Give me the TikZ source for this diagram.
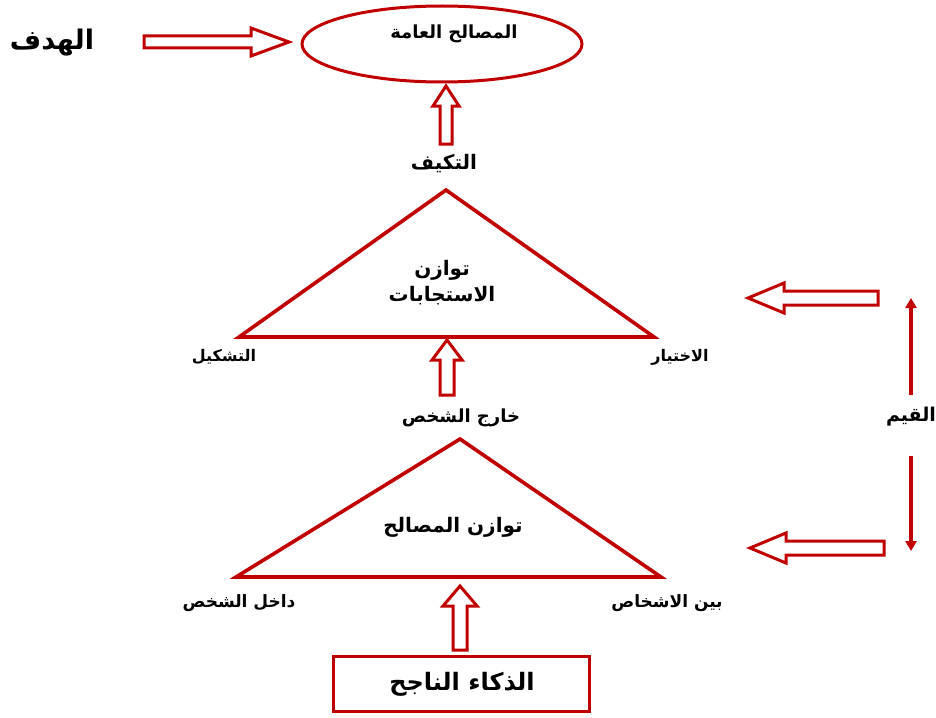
\documentclass[tikz,border=0pt]{standalone}
\usepackage{fontspec}
\TeXXeTstate=1
\newfontfamily\arabicfont[Script=Arabic]{DejaVu Sans}
\usetikzlibrary{shapes.geometric,arrows.meta}
\definecolor{dred}{HTML}{C00000}
\newcommand\fs[1]{\fontsize{#1}{#1}\selectfont\arabicfont\bfseries}
% #1 start coordinate, #2 rotation, #3 length, #4 shaft half, #5 head half, #6 head length
\newcommand\hollowarrow[6]{%
  \draw[harrow,shift={(#1)},rotate=#2]
    (0,-#4) -- ({#3-#6},-#4) -- ({#3-#6},-#5) -- (#3,0) -- ({#3-#6},#5)
    -- ({#3-#6},#4) -- (0,#4) -- cycle;}
\tikzset{
  harrow/.style={draw=dred,line width=3pt,line join=miter},
  redline/.style={draw=dred,line width=3.6pt},
  lbl/.style={inner sep=1pt,text=black},
  thinarrow/.style={draw=dred,line width=3.2pt,-{Triangle[length=10pt,width=11pt]}}
}
\begin{document}
\begin{tikzpicture}[x=1pt,y=-1pt]
\useasboundingbox (0,0) rectangle (936,717);
% top ellipse
\node[ellipse,draw=dred,line width=3pt,minimum width=280pt,minimum height=76pt] (goalE) at (442,44) {};
\node[lbl] (goalT) at (454,34) {\fs{18}\beginR المصالح العامة\endR};
\node[lbl] (goal) at (52,43) {\fs{27}\beginR الهدف\endR};
\coordinate (aGoal) at (144,42);
\hollowarrow{aGoal}{0}{145}{6}{14}{38}
% arrow up to ellipse
\coordinate (aUp1) at (446,144);
\hollowarrow{aUp1}{90}{58}{6}{13}{20}
\node[lbl] (adapt) at (444,164) {\fs{20}\beginR التكيف\endR};
% upper triangle
\coordinate (t1a) at (446,190);
\coordinate (t1l) at (239,337);
\coordinate (t1r) at (654,337);
\draw[redline,line join=miter] (t1a) -- (t1l) -- (t1r) -- cycle;
\node[lbl] (bal1) at (442,270) {\fs{20}\beginR توازن\endR};
\node[lbl] (bal2) at (442,296) {\fs{20}\beginR الاستجابات\endR};
\node[lbl] (shape) at (224,357) {\fs{16}\beginR التشكيل\endR};
\node[lbl] (choice) at (680,357) {\fs{16}\beginR الاختيار\endR};
% middle up arrow
\coordinate (aUp2) at (447,395);
\hollowarrow{aUp2}{90}{55}{7}{15}{20}
\node[lbl] (outside) at (461,418) {\fs{18}\beginR خارج الشخص\endR};
% lower triangle
\coordinate (t2a) at (460,439);
\coordinate (t2l) at (236,577);
\coordinate (t2r) at (661,577);
\draw[redline,line join=miter] (t2a) -- (t2l) -- (t2r) -- cycle;
\node[lbl] (bal3) at (453,527) {\fs{20}\beginR توازن المصالح\endR};
\node[lbl] (inside) at (239,603) {\fs{17}\beginR داخل الشخص\endR};
\node[lbl] (between) at (667,603) {\fs{17}\beginR بين الاشخاص\endR};
% bottom up arrow
\coordinate (aUp3) at (460,650);
\hollowarrow{aUp3}{90}{64}{7}{17}{20}
% bottom rectangle
\node[draw=dred,line width=3pt,minimum width=256pt,minimum height=55pt] (succ) at (461.5,684) {};
\node[lbl] (succT) at (462,684) {\fs{24}\beginR الذكاء الناجح\endR};
% values
\node[lbl,inner sep=4pt] (values) at (911,417) {\fs{19}\beginR القيم\endR};
\coordinate (vTop) at (911,298);
\coordinate (vBot) at (911,551);
\draw[thinarrow] (911,395) -- (vTop);
\draw[thinarrow] (911,456) -- (vBot);
% left hollow arrows
\coordinate (aL1) at (878,298);
\hollowarrow{aL1}{180}{130}{7}{15}{36}
\coordinate (aL2) at (884,548);
\hollowarrow{aL2}{180}{134}{7}{15}{36}
\end{tikzpicture}
\end{document}
